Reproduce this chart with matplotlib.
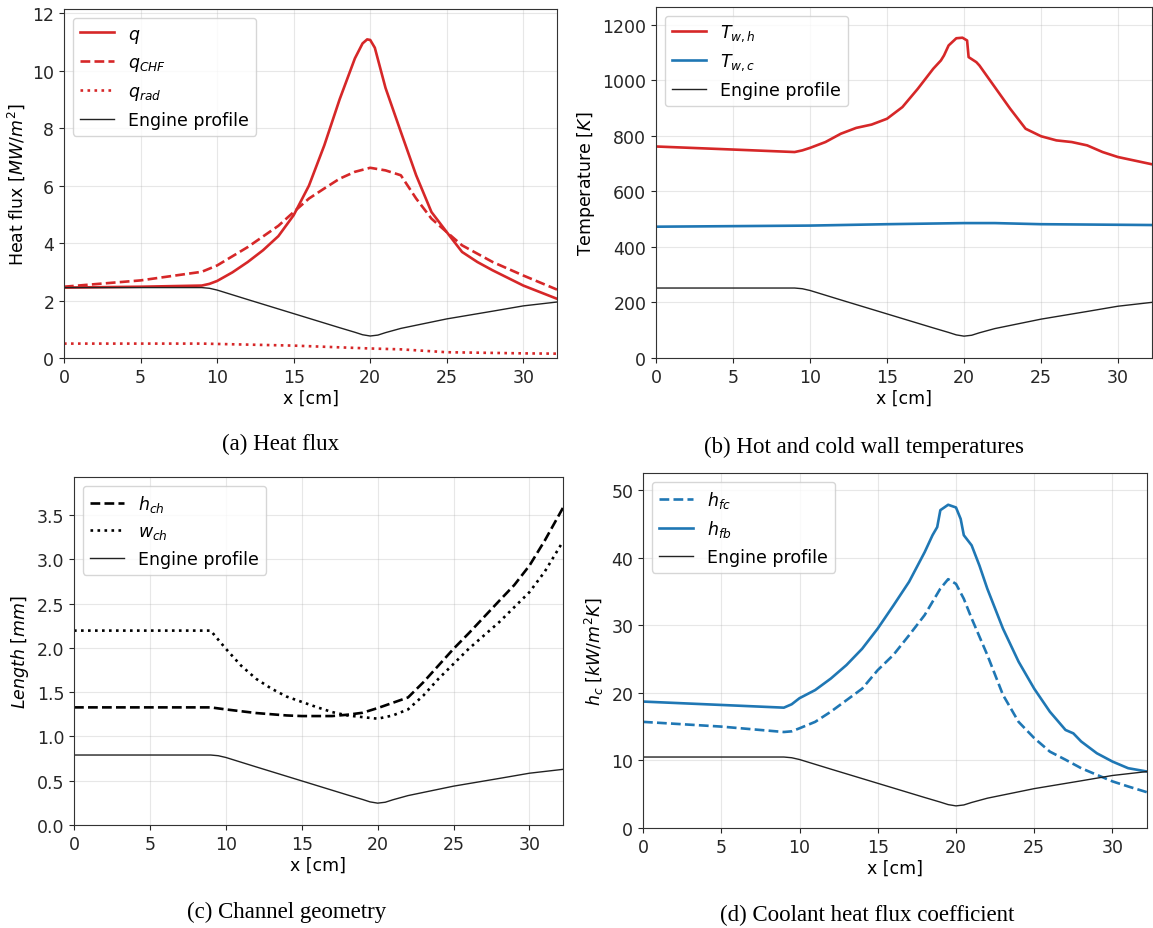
import numpy as np
import matplotlib
matplotlib.use('Agg')
import matplotlib.pyplot as plt

# Engine profile (normalised radius, scaled per panel)
x_prof = [0, 9, 9.5, 10, 12, 15, 18, 19, 19.5, 20, 20.5, 21, 22, 25, 28, 30, 32.2]
r_prof = [1.0, 1.0, 0.99, 0.965, 0.83, 0.63, 0.43, 0.365, 0.33, 0.312, 0.325, 0.36, 0.42,
          0.555, 0.665, 0.74, 0.795]

# (a) Heat flux [MW/m2]
x_q = [0, 5, 9, 9.5, 10, 11, 12, 13, 14, 15, 16, 17, 18, 19, 19.5, 19.8, 20, 20.3, 21, 22,
       23, 24, 25, 26, 27, 28, 30, 32.2]
q = [2.45, 2.48, 2.52, 2.58, 2.68, 2.98, 3.34, 3.75, 4.24, 4.97, 6.0, 7.4, 9.0, 10.43, 10.95,
     11.09, 11.07, 10.8, 9.4, 7.87, 6.36, 5.08, 4.38, 3.69, 3.34, 3.05, 2.52, 2.06]
x_qchf = [0, 5, 9, 10, 12, 14, 15, 16, 17, 18, 19, 20, 21, 22, 23, 24, 25, 26, 28, 30, 32.2]
q_chf = [2.48, 2.7, 3.0, 3.22, 3.86, 4.6, 5.08, 5.55, 5.9, 6.24, 6.48, 6.62, 6.53, 6.36,
         5.55, 4.85, 4.38, 3.92, 3.34, 2.87, 2.38]
x_qrad = [0, 9, 15, 20, 22, 25, 30, 32.2]
q_rad = [0.5, 0.5, 0.43, 0.33, 0.3, 0.2, 0.16, 0.15]

# (b) Wall temperatures [K]
x_twh = [0, 5, 9, 9.5, 10, 11, 12, 13, 14, 15, 16, 17, 18, 18.5, 18.7, 19, 19.5, 19.9, 20.2,
         20.3, 20.8, 21, 22, 23, 24, 25, 26, 27, 28, 29, 30, 32.2]
t_wh = [762, 751, 742, 748, 757, 778, 808, 829, 841, 862, 904, 970, 1042, 1072, 1090, 1126,
        1152, 1154, 1144, 1084, 1066, 1054, 976, 898, 826, 799, 784, 778, 766, 742, 724, 698]
x_twc = [0, 10, 15, 20, 22, 25, 32.2]
t_wc = [473, 477, 482, 486, 486, 482, 479]

# (c) Channel geometry [mm]
x_hch = [0, 9, 10, 12, 14, 15, 17, 18, 19, 20, 21, 22, 23, 24, 25, 26, 28, 29, 30, 31, 32.2]
h_ch = [1.328, 1.328, 1.305, 1.264, 1.237, 1.23, 1.23, 1.245, 1.267, 1.32, 1.38, 1.44, 1.61,
        1.8, 1.99, 2.165, 2.53, 2.71, 2.93, 3.21, 3.58]
x_wch = [0, 9, 10, 11, 12, 13, 14, 15, 16, 17, 18, 19, 20, 21, 22, 23, 24, 25, 26, 28, 30,
         31, 32.2]
w_ch = [2.195, 2.195, 1.99, 1.8, 1.65, 1.54, 1.45, 1.39, 1.33, 1.275, 1.237, 1.218, 1.2,
        1.237, 1.305, 1.46, 1.65, 1.82, 1.99, 2.29, 2.63, 2.86, 3.2]

# (d) Coolant heat transfer coefficient [kW/m2K]
x_hfb = [0, 5, 9, 9.5, 10, 11, 12, 13, 14, 15, 16, 17, 18, 18.5, 18.8, 19, 19.5, 20, 20.3,
         20.5, 21, 21.5, 22, 23, 24, 25, 26, 27, 27.5, 28, 29, 30, 31, 32.2]
h_fb = [18.7, 18.2, 17.8, 18.3, 19.2, 20.4, 22.1, 24.1, 26.5, 29.5, 32.9, 36.4, 40.8, 43.3,
        44.5, 47.0, 47.8, 47.4, 45.7, 43.3, 41.8, 38.8, 35.4, 29.5, 24.6, 20.6, 17.2, 14.5,
        14.0, 12.8, 11.06, 9.83, 8.85, 8.36]
x_hfc = [0, 5, 9, 9.5, 10, 11, 12, 13, 14, 15, 16, 17, 18, 19, 19.5, 20, 20.5, 21, 22, 23,
         24, 25, 26, 27, 28, 29, 30, 31, 32.2]
h_fc = [15.7, 15.0, 14.2, 14.3, 14.75, 15.7, 17.2, 18.9, 20.6, 23.35, 25.6, 28.5, 31.5, 35.4,
        36.8, 36.1, 33.9, 31.0, 25.6, 19.7, 15.7, 13.3, 11.3, 10.1, 8.85, 7.87, 6.9, 6.15, 5.3]

RED = '#d62728'
BLUE = '#1f77b4'
FS = 12.5


def style(ax, ylim, ylabel):
    ax.set_xlim(0, 32.2)
    ax.set_ylim(*ylim)
    ax.grid(True, color='#b0b0b0', alpha=0.3, lw=0.8)
    ax.set_xlabel('x [cm]', fontsize=FS, labelpad=2)
    ax.set_ylabel(ylabel, fontsize=FS)
    ax.tick_params(labelsize=FS, colors='#262626')
    for s in ax.spines.values():
        s.set_color('#333333')
    ax.legend(loc='upper left', fontsize=FS)


fig = plt.figure(figsize=(11.53, 9.29), dpi=100)

# (a)
ax = fig.add_axes([0.0555, 0.6136, 0.4276, 0.3757])
ax.plot(x_q, q, color=RED, lw=1.9, label='$q$')
ax.plot(x_qchf, q_chf, color=RED, lw=1.9, ls='--', label='$q_{CHF}$')
ax.plot(x_qrad, q_rad, color=RED, lw=1.9, ls=':', label='$q_{rad}$')
ax.plot(x_prof, np.array(r_prof) * 2.45, color='#222222', lw=1.0, label='Engine profile')
style(ax, (0, 12.15), 'Heat flux $[MW/m^2]$')

# (b)
ax = fig.add_axes([0.569, 0.6136, 0.430, 0.3779])
ax.plot(x_twh, t_wh, color=RED, lw=1.9, label='$T_{w,h}$')
ax.plot(x_twc, t_wc, color=BLUE, lw=1.9, label='$T_{w,c}$')
ax.plot(x_prof, np.array(r_prof) * 252, color='#222222', lw=1.0, label='Engine profile')
style(ax, (0, 1265), 'Temperature $[K]$')

# (c)
ax = fig.add_axes([0.0642, 0.1109, 0.424, 0.3746])
ax.plot(x_hch, h_ch, color='black', lw=1.9, ls='--', label='$h_{ch}$')
ax.plot(x_wch, w_ch, color='black', lw=1.9, ls=':', label='$w_{ch}$')
ax.plot(x_prof, np.array(r_prof) * 0.79, color='#222222', lw=1.0, label='Engine profile')
style(ax, (0, 3.93), r'$Length\ [mm]$')

# (d)
ax = fig.add_axes([0.5577, 0.1076, 0.437, 0.3822])
ax.plot(x_hfc, h_fc, color=BLUE, lw=1.9, ls='--', label='$h_{fc}$')
ax.plot(x_hfb, h_fb, color=BLUE, lw=1.9, label='$h_{fb}$')
ax.plot(x_prof, np.array(r_prof) * 10.5, color='#222222', lw=1.0, label='Engine profile')
style(ax, (0, 52.5), r'$h_c\ [kW/m^2K]$')

# captions
cap = dict(fontsize=16.5, family='Liberation Serif', ha='center', va='center')
fig.text(281 / 1153, 1 - 444 / 929, '(a) Heat flux', **cap)
fig.text(864 / 1153, 1 - 447 / 929, '(b) Hot and cold wall temperatures', **cap)
fig.text(287 / 1153, 1 - 912 / 929, '(c) Channel geometry', **cap)
fig.text(867 / 1153, 1 - 915 / 929, '(d) Coolant heat flux coefficient', **cap)

fig.savefig('out.png', dpi=100)
